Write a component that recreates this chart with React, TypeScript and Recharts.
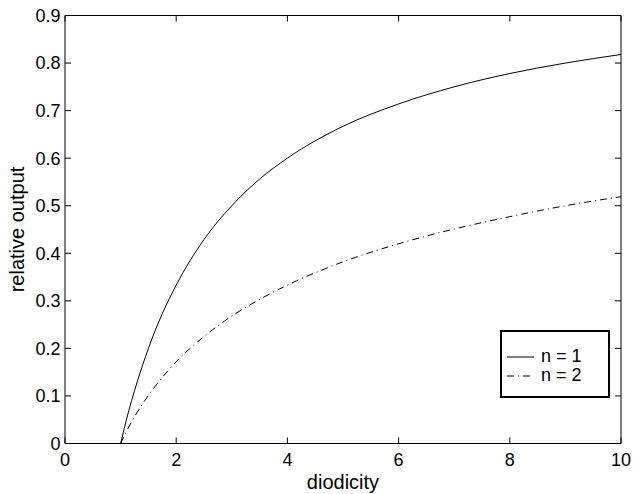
import { LineChart, Line, XAxis, YAxis, Legend } from 'recharts'

// values
const diodicity = [1, 1.05, 1.1, 1.2, 1.3, 1.5, 1.75, 2, 2.5, 3, 3.5, 4, 5, 6, 7, 8, 9, 10]
const outputN1 = [0, 0.024, 0.048, 0.091, 0.13, 0.2, 0.273, 0.333, 0.429, 0.5, 0.556, 0.6, 0.667, 0.714, 0.75, 0.778, 0.8, 0.818]
const outputN2 = [0, 0.012, 0.024, 0.046, 0.066, 0.101, 0.139, 0.172, 0.225, 0.268, 0.303, 0.333, 0.382, 0.42, 0.451, 0.477, 0.5, 0.519]

const xTicks = [0, 2, 4, 6, 8, 10]
const yTicks = [0, 0.1, 0.2, 0.3, 0.4, 0.5, 0.6, 0.7, 0.8, 0.9]

// n = 2 is drawn on the mirrored top/right axes (same domains) so the box axes get rendered
const series = [
  { key: 'n1', name: 'n = 1', dash: undefined as string | undefined, xId: 0 as number | string, yId: 0 as number | string },
  { key: 'n2', name: 'n = 2', dash: '7 4 1 4', xId: 'top', yId: 'right' },
]

const data = diodicity.map((d, i) => ({ d, n1: outputN1[i], n2: outputN2[i] }))

const FONT = '"Liberation Sans", Arial, Helvetica, sans-serif'
const tickStyle = { fill: '#000', fontSize: 18, fontFamily: FONT }
const yFmt = (v: number) => (v === 0 ? '0' : v.toFixed(1))
const blank = () => ''

const YLabel = ({ viewBox }: any) => {
  const x = viewBox.x + 19
  const y = viewBox.y + viewBox.height / 2
  return (
    <text x={x} y={y} transform={`rotate(-90, ${x}, ${y})`} textAnchor="middle"
      fill="#000" fontSize={20} fontFamily={FONT}>
      relative output
    </text>
  )
}

const XLabel = ({ viewBox }: any) => {
  const x = viewBox.x + viewBox.width / 2
  const y = viewBox.y + 45
  return (
    <text x={x} y={y} textAnchor="middle" fill="#000" fontSize={20} fontFamily={FONT}>
      diodicity
    </text>
  )
}

const renderLegend = () => (
  <div style={{
    width: 110, height: 68, boxSizing: 'border-box',
    border: '2px solid #000', background: '#fff',
    padding: '15px 0 0 5px', fontFamily: FONT, fontSize: 18, color: '#000',
  }}>
    {series.map(s => (
      <div key={s.key} style={{ display: 'flex', alignItems: 'center', height: 19 }}>
        <svg width={27} height={10}>
          <line x1={0} y1={5} x2={27} y2={5} stroke="#000" strokeWidth={1} strokeDasharray={s.dash} />
        </svg>
        <span style={{ marginLeft: 7, lineHeight: '19px' }}>{s.name}</span>
      </div>
    ))}
  </div>
)

export default function App() {
  return (
    <div style={{ position: 'absolute', left: 0, top: 0, width: 637, height: 494, background: '#fff' }}>
      <LineChart width={637} height={494} data={data}
        margin={{ top: 15.5, right: 16, bottom: 20, left: 5 }}>
        <XAxis dataKey="d" type="number" domain={[0, 10]} ticks={xTicks} allowDataOverflow
          height={30.5} tickSize={-6} tickMargin={16} tick={tickStyle}
          axisLine={{ stroke: '#000' }} tickLine={{ stroke: '#000' }}
          label={{ content: XLabel }} />
        <XAxis xAxisId="top" dataKey="d" orientation="top" mirror type="number" domain={[0, 10]} ticks={xTicks} allowDataOverflow
          height={10} tickSize={6} tickFormatter={blank}
          axisLine={{ stroke: '#000' }} tickLine={{ stroke: '#000' }} />
        <YAxis type="number" domain={[0, 0.9]} ticks={yTicks} allowDataOverflow
          width={60} tickSize={-6} tickMargin={10.5} tick={tickStyle} tickFormatter={yFmt}
          axisLine={{ stroke: '#000' }} tickLine={{ stroke: '#000' }}
          label={{ content: YLabel }} />
        <YAxis yAxisId="right" orientation="right" mirror type="number" domain={[0, 0.9]} ticks={yTicks} allowDataOverflow
          width={10} tickSize={6} tickFormatter={blank}
          axisLine={{ stroke: '#000' }} tickLine={{ stroke: '#000' }} />
        <Legend content={renderLegend} layout="horizontal" verticalAlign="middle" align="center"
          wrapperStyle={{ position: 'absolute', left: 500, top: 330, width: 'auto', height: 'auto' }} />
        {series.map(s => (
          <Line key={s.key} dataKey={s.key} name={s.name} xAxisId={s.xId} yAxisId={s.yId}
            type="monotone" stroke="#000" strokeWidth={1}
            strokeDasharray={s.dash} dot={false} activeDot={false} isAnimationActive={false} />
        ))}
      </LineChart>
    </div>
  )
}
